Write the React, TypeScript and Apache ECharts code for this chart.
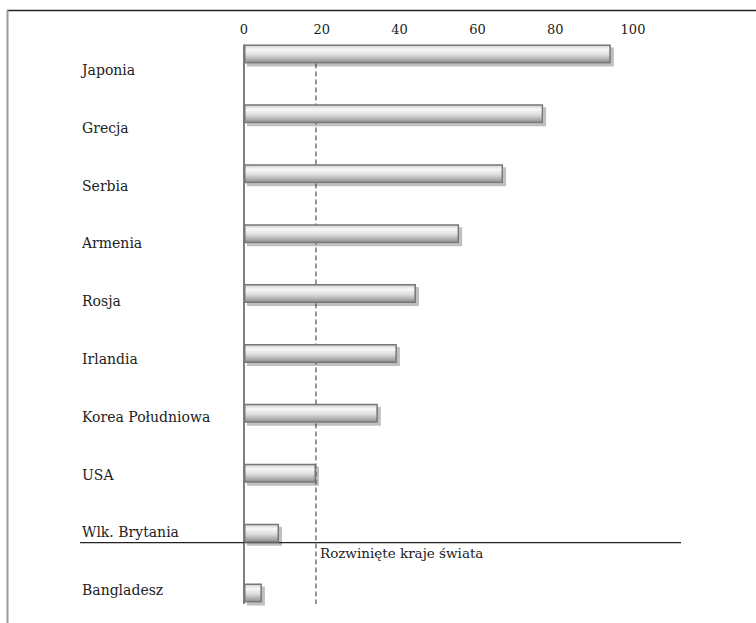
import React, { useEffect, useRef } from "react";
import * as echarts from "echarts";

const categories = [
  "Japonia",
  "Grecja",
  "Serbia",
  "Armenia",
  "Rosja",
  "Irlandia",
  "Korea Południowa",
  "USA",
  "Wlk. Brytania",
  "Bangladesz",
];
const values = [94.3, 76.9, 66.6, 55.3, 44.2, 39.3, 34.4, 18.5, 9.0, 4.6];
const thresholdValue = 18.5;
const thresholdLabel = "Rozwinięte kraje świata";
const dividerAfter = "Wlk. Brytania";

const FONT = "DejaVu Serif";

export default function App() {
  const ref = useRef<HTMLDivElement>(null);
  useEffect(() => {
    if (!ref.current) return;
    const chart = echarts.init(ref.current, undefined, { renderer: "svg" });
    chart.setOption({
      animation: false,
      backgroundColor: "#ffffff",
      textStyle: { fontFamily: FONT },
      grid: [
        { left: 244, top: 24, width: 389, height: 600 },
        { left: 90, top: 41, width: 10, height: 578 },
      ],
      xAxis: [
        {
          gridIndex: 0,
          type: "value",
          position: "top",
          min: 0,
          max: 100,
          interval: 20,
          offset: -20,
          axisLine: { show: false },
          axisTick: { show: false },
          splitLine: { show: false },
          axisLabel: { margin: 8, fontFamily: FONT, fontSize: 13, color: "#222" },
        },
        {
          gridIndex: 1,
          type: "value",
          show: false,
        },
      ],
      yAxis: [
        {
          gridIndex: 0,
          type: "category",
          inverse: true,
          data: categories,
          axisLine: { show: false },
          axisTick: { show: false },
          axisLabel: { show: false },
        },
        {
          gridIndex: 1,
          type: "category",
          inverse: true,
          data: categories,
          axisLine: { show: false },
          axisTick: { show: false },
          axisLabel: {
            align: "left",
            margin: 8,
            fontFamily: FONT,
            fontSize: 14,
            color: "#222",
          },
        },
      ],
      series: [
        {
          type: "bar",
          xAxisIndex: 0,
          yAxisIndex: 0,
          data: values,
          barWidth: 19,
          z: 3,
          itemStyle: {
            color: new echarts.graphic.LinearGradient(0, 0, 0, 1, [
              { offset: 0, color: "#d0d0d0" },
              { offset: 0.25, color: "#f8f8f8" },
              { offset: 0.55, color: "#dddddd" },
              { offset: 1, color: "#8e8e8e" },
            ]),
            borderColor: "#777777",
            borderWidth: 1.5,
            shadowColor: "rgba(0,0,0,0.25)",
            shadowOffsetX: 3,
            shadowOffsetY: 3,
            shadowBlur: 0,
          },
        },
      ],
    });

    const px = (v: number) => chart.convertToPixel({ xAxisIndex: 0 }, v) as number;
    const py = (c: string) => chart.convertToPixel({ yAxisIndex: 0 }, c) as number;
    const x0 = px(0);
    const xd = px(thresholdValue);
    const yTop = py(categories[0]) - 9.5;
    const yBot = py(categories[categories.length - 1]) + 11;
    const yDiv = py(dividerAfter) + 9.5;

    chart.setOption({
      graphic: [
        {
          type: "line",
          z: 1,
          shape: { x1: 7, y1: 10.5, x2: 756, y2: 10.5 },
          style: { stroke: "#222", lineWidth: 1.5 },
        },
        {
          type: "line",
          z: 1,
          shape: { x1: 7.5, y1: 10, x2: 7.5, y2: 623 },
          style: { stroke: "#999", lineWidth: 2 },
        },
        {
          type: "line",
          z: 1,
          shape: { x1: x0, y1: yTop, x2: x0, y2: yBot },
          style: { stroke: "#555", lineWidth: 1.5 },
        },
        {
          type: "line",
          z: 1,
          shape: { x1: xd, y1: yTop + 19, x2: xd, y2: yBot },
          style: { stroke: "#333", lineWidth: 1, lineDash: [5, 3] },
        },
        {
          type: "line",
          z: 1,
          shape: { x1: 80, y1: yDiv, x2: 681, y2: yDiv },
          style: { stroke: "#222", lineWidth: 1.2 },
        },
        {
          type: "text",
          z: 4,
          x: xd + 4,
          y: yDiv + 3,
          style: {
            text: thresholdLabel,
            fontFamily: FONT,
            fontSize: 13.5,
            fill: "#222",
          },
        },
      ],
    });

    return () => chart.dispose();
  }, []);
  return (
    <div
      ref={ref}
      style={{ position: "fixed", left: 0, top: 0, width: 756, height: 623 }}
    />
  );
}
